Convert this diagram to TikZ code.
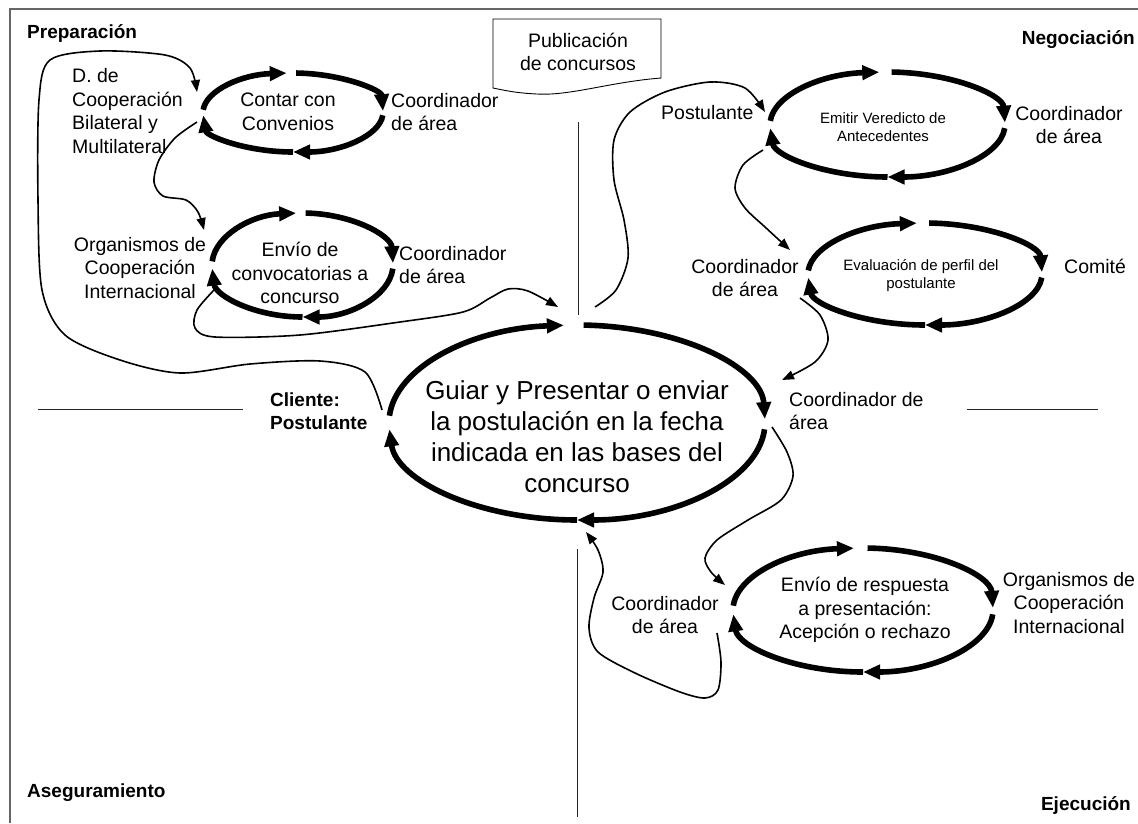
\documentclass[tikz,border=0pt]{standalone}
\usepackage{fontspec}
\setmainfont{Liberation Sans}
\usetikzlibrary{arrows.meta}

\begin{document}
\begin{tikzpicture}[
  x=1pt, y=-1pt,
  font=\fontsize{19.5}{23.5}\selectfont,
  txt/.style={inner sep=0pt, align=center},
  txtl/.style={inner sep=0pt, align=left, anchor=west},
  phase/.style={inner sep=0pt, font=\fontsize{19}{23}\selectfont\bfseries},
  bigtask/.style={txt, font=\fontsize{26}{31}\selectfont},
  smalltask/.style={txt, font=\fontsize{15}{18}\selectfont},
  ring/.style={line width=5.6pt, -{Triangle[length=17pt, width=14pt]}},
  link/.style={line width=1.6pt, -{Triangle[length=12pt, width=9pt]}},
  divider/.style={line width=0.9pt, draw=black!85},
  border/.style={line width=1.2pt, draw=black!60},
  docline/.style={line width=0.9pt},
  pics/loopring/.style args={#1/#2}{code={
    \draw[ring] (184:#1 and #2) arc[start angle=184, end angle=266, x radius=#1, y radius=#2];
    \draw[ring] (272:#1 and #2) arc[start angle=272, end angle=358, x radius=#1, y radius=#2];
    \draw[ring] (4:#1 and #2) arc[start angle=4, end angle=90, x radius=#1, y radius=#2];
    \draw[ring] (90:#1 and #2) arc[start angle=90, end angle=176, x radius=#1, y radius=#2];
  }},
]
\useasboundingbox (0,0) rectangle (1138,823);
\draw[border] (1138,9) -- (10,9) -- (10,823);

% quadrant names
\node[phase, anchor=west] (prep) at (27,33)   {Preparación};
\node[phase, anchor=east] (nego) at (1135,40) {Negociación};
\node[phase, anchor=west] (aseg) at (27,793)  {Aseguramiento};
\node[phase, anchor=east] (ejec) at (1131,805) {Ejecución};

% axes
\draw[divider] (578,122) -- (578,315);
\draw[divider] (577,549) -- (577,817);
\draw[divider] (38,409) -- (243,409);
\draw[divider] (967,409) -- (1098,409);

% published call
\node[txt] (pub) at (578,52) {Publicación\\de concursos};
\draw[docline] (493,19) -- (661,19) -- (661,78)
  .. controls (610,82) and (570,96) .. (537,94)
  .. controls (515,93) and (503,90) .. (493,88) -- cycle;

% cycles
\pic at (293,112.5) {loopring=90/39.5};
\node[txt] (convenios) at (288,112) {Contar con\\Convenios};
\node[txtl] (dcoop) at (72,111) {D. de\\Cooperación\\Bilateral y\\Multilateral};
\node[txtl] (coor1) at (391,112) {Coordinador\\de área};

\pic at (302.5,265) {loopring=90.5/52};
\node[txt] (convoc) at (300,273) {Envío de\\convocatorias a\\concurso};
\node[txt] (orgint1) at (140,268) {Organismos de\\Cooperación\\Internacional};
\node[txtl] (coor2) at (399,265) {Coordinador\\de área};

\pic at (577,422.5) {loopring=188/97.5};
\node[bigtask] (guiar) at (577,437)
  {Guiar y Presentar o enviar\\la postulación en la fecha\\indicada en las bases del\\concurso};
\node[txtl, font=\fontsize{19}{23.5}\selectfont\bfseries] (cliente) at (270,411) {Cliente:\\Postulante};
\node[txtl] (coor3) at (789,411) {Coordinador de\\área};

\pic at (887.5,124.5) {loopring=117.5/52.5};
\node[smalltask] (veredicto) at (883,127) {Emitir Veredicto de\\Antecedentes};
\node[txtl] (postul) at (661,113) {Postulante};
\node[txt] (coor4) at (1069,125) {Coordinador\\de área};

\pic at (925,274) {loopring=117/51};
\node[smalltask] (perfil) at (921,276) {Evaluación de perfil del\\postulante};
\node[txt] (coor5) at (745,278) {Coordinador\\de área};
\node[txtl] (comite) at (1064,266) {Comité};

\pic at (863,610) {loopring=130/62};
\node[txt] (respuesta) at (865,610) {Envío de respuesta\\a presentación:\\Acepción o rechazo};
\node[txt] (coor6) at (665,615) {Coordinador\\de área};
\node[txt] (orgint2) at (1069,603) {Organismos de\\Cooperación\\Internacional};

% connector ends
\coordinate (cli-out)  at (382,410);
\coordinate (dco-in)   at (197,92);
\coordinate (mul-out)  at (197,122);
\coordinate (org-in)   at (204,230);
\coordinate (int-out)  at (215,289);
\coordinate (gui-in)   at (558,307);
\coordinate (gui-out)  at (595,307);
\coordinate (pos-in)   at (765,112);
\coordinate (pos-out)  at (763,150);
\coordinate (coe-in)   at (790,250);
\coordinate (coe-out)  at (800,298);
\coordinate (cog-in)   at (782,380);
\coordinate (cog-out)  at (772,427);
\coordinate (cob-in)   at (725,585);
\coordinate (cob-out)  at (717,633);
\coordinate (gui-bot)  at (586,532);

\draw[link] plot[smooth] coordinates {(cli-out) (365,372) (320,361) (250,364)
  (180,373) (120,360) (65,335) (42,290) (38,200) (39,100) (50,60) (100,51)
  (165,55) (190,68) (dco-in)};
\draw[link] plot[smooth] coordinates {(mul-out) (175,138) (159,160) (154,182)
  (163,196) (186,200) (198,212) (org-in)};
\draw[link] plot[smooth] coordinates {(int-out) (197,310) (195,328) (215,337)
  (300,335) (400,322) (463,312) (490,298) (508,289) (528,291) (gui-in)};
\draw[link] plot[smooth] coordinates {(gui-out) (616,290) (628,258) (624,220)
  (614,180) (614,140) (630,112) (665,92) (710,82) (745,88) (pos-in)};
\draw[link] plot[smooth] coordinates {(pos-out) (743,165) (735,188) (745,208)
  (765,227) (coe-in)};
\draw[link] plot[smooth] coordinates {(coe-out) (820,315) (828,340) (815,362)
  (cog-in)};
\draw[link] plot[smooth] coordinates {(cog-out) (787,452) (793,476) (781,500)
  (748,520) (717,540) (705,558) (711,572) (cob-in)};
\draw[link] plot[smooth] coordinates {(cob-out) (721,662) (718,690) (705,698)
  (680,692) (635,673) (598,652) (589,628) (594,598) (603,572) (598,550)
  (gui-bot)};
\end{tikzpicture}
\end{document}
